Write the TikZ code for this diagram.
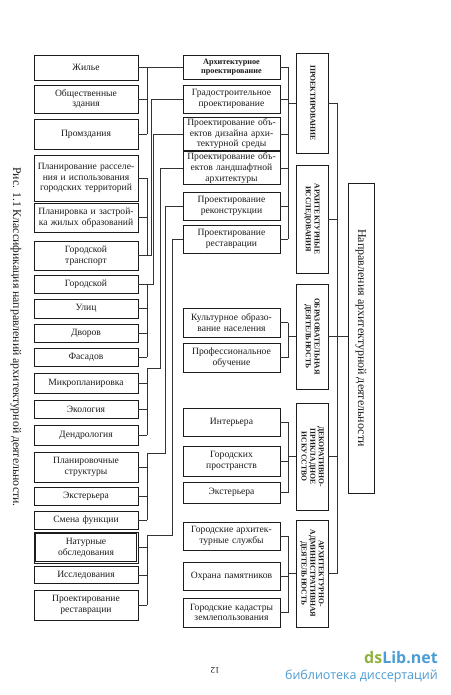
\documentclass[tikz,border=0pt]{standalone}
\usepackage{fontspec}
\setmainfont{Liberation Serif}
\newfontfamily\wmfont{Open Sans}
\usetikzlibrary{positioning}
\definecolor{ink}{HTML}{1C1C1C}
\definecolor{wire}{HTML}{333333}
\definecolor{wmgreen}{HTML}{8DB33C}
\definecolor{wmblue}{HTML}{4C9DD3}

\begin{document}
\begin{tikzpicture}[x=1pt,y=-1pt,
    box/.style={draw=ink,line width=0.9pt,inner sep=1pt,align=center,text=ink,
      font=\fontsize{9.6}{10.6}\selectfont},
    lbox/.style={box,minimum width=104pt,text width=102pt},
    mbox/.style={box,minimum width=97pt,text width=95pt},
    catbox/.style={box,minimum width=32pt,font=\fontsize{7.6}{8.6}\selectfont\bfseries},
    plain/.style={},
    head/.style={font=\fontsize{8.2}{8.8}\selectfont\bfseries},
    link/.style={draw=wire,line width=0.6pt}]
    \useasboundingbox (0,0) rectangle (450,695);
    \fill[white] (0,0) rectangle (450,695);

    % left column: objects
    \foreach \n/\yc/\h/\txt in {%
      1/67.5/25/{Жилье},
      2/99/28/{Общественные\\здания},
      3/134/30/{Промздания},
      4/178/46/{Планирование расселе-\\ния и использования\\городских территорий},
      5/217.5/29/{Планировка и застрой-\\ка жилых образований},
      6/255.5/29/{Городской\\транспорт},
      7/284.5/18/{Городской},
      8/308.5/19/{Улиц},
      9/333.5/18/{Дворов},
      10/357/18/{Фасадов},
      11/383/20/{Микропланировка},
      12/409/18/{Экология},
      13/435/20/{Дендрология},
      14/467/30/{Планировочные\\структуры},
      15/496/18/{Экстерьера},
      16/520/18/{Смена функции},
      17/547.5/31/{Натурные\\обследования},
      18/575/17/{Исследования},
      19/605/30/{Проектирование\\реставрации}}{
      \node[lbox,minimum height=\h pt] (L\n) at (86,\yc) {\txt};}
    % the doubled frame
    \draw[ink,line width=0.6pt] ([shift={(1.8,2)}]L17.north west)
      rectangle ([shift={(-1.8,-2.2)}]L17.south east);

    % middle column: kinds of work
    \foreach \n/\yc/\h/\st/\txt in {%
      1/67.5/24/head/{Архитектурное\\проектирование},
      2/99/28/plain/{Градостроительное\\проектирование},
      3/134/32/plain/{Проектирование объ-\\ектов дизайна архи-\\тектурной среды},
      4/168/30/plain/{Проектирование объ-\\ектов ландшафтной\\архитектуры},
      5/206/28/plain/{Проектирование\\реконструкции},
      6/239/28/plain/{Проектирование\\реставрации},
      7/322.5/29/plain/{Культурное образо-\\вание населения},
      8/357.5/29/plain/{Профессиональное\\обучение},
      9/422/28/plain/{Интерьера},
      10/461/30/plain/{Городских\\пространств},
      11/492.5/21/plain/{Экстерьера},
      12/536/28/plain/{Городские архитек-\\турные службы},
      13/576/28/plain/{Охрана памятников},
      14/612.5/29/plain/{Городские кадастры\\землепользования}}{
      \node[mbox,\st,minimum height=\h pt] (M\n) at (231.5,\yc) {\txt};}

    % categories, text turned
    \foreach \n/\yc/\h/\txt in {%
      1/103/100/{ПРОЕКТИРОВАНИЕ},
      2/219/108/{АРХИТЕКТУРНЫЕ\\ИССЛЕДОВАНИЯ},
      3/336.5/105/{ОБРАЗОВАТЕЛЬНАЯ\\ДЕЯТЕЛЬНОСТЬ},
      4/456.5/107/{ДЕКОРАТИВНО-\\ПРИКЛАДНОЕ\\ИСКУССТВО},
      5/573.5/107/{АРХИТЕКТУРНО-\\АДМИНИСТРАТИВНАЯ\\ДЕЯТЕЛЬНОСТЬ}}{
      \node[catbox,minimum height=\h pt] (R\n) at (312,\yc)
        {\rotatebox{-90}{\begin{tabular}{@{}c@{}}\txt\end{tabular}}};}

    \node[box,minimum width=26pt,minimum height=310pt] (main) at (361,338)
      {\rotatebox{-90}{\fontsize{12}{13}\selectfont Направления архитектурной деятельности}};

    % left brackets
    \coordinate (sL) at (147,0);
    \coordinate (jD) at (147,368);
    \coordinate (jE) at (147,453);
    \coordinate (jF) at (147,535);
    \foreach \i in {1,...,19}
      \draw[link] (L\i.east) -- (L\i.east -| sL);
    \draw[link] (L1.east) -- (M1.west);
    \draw[link] (L1.east -| sL) -- (L3.east -| sL);
    \draw[link] (L4.east -| sL) -- (L6.east -| sL) -- ++(4,0) |- (M2.west);
    \draw[link] (L10.east -| sL) -- (L7.east -| sL) -- ++(6,0) |- (M3.west);
    \draw[link] (L13.east -| sL) -- (jD) -- ++(13,0) |- (M4.west);
    \draw[link] (L16.east -| sL) -- (jE) -- ++(18,0) |- (M5.west);
    \draw[link] (L19.east -| sL) -- (jF) -- ++(25,0) |- (M6.west);

    % middle brackets
    \coordinate (sM) at (288,0);
    \foreach \i in {1,...,14}
      \draw[link] (M\i.east) -- (M\i.east -| sM);
    \draw[link] (M1.east -| sM) -- (M6.east -| sM);
    \draw[link] (M7.east -| sM) -- (M8.east -| sM);
    \draw[link] (M9.east -| sM) -- (M11.east -| sM);
    \draw[link] (M12.east -| sM) -- (M14.east -| sM);
    \foreach \i in {1,3,4,5}
      \draw[link] (sM |- R\i.west) -- (R\i.west);

    % spine to the whole
    \coordinate (sR) at (337,0);
    \foreach \i in {1,...,5}
      \draw[link] (R\i.east) -- (R\i.east -| sR);
    \draw[link] (R1.east -| sR) -- (R5.east -| sR);
    \draw[link] (sR |- R3.east) -- (main.west |- R3.east);

    \node[rotate=-90,text=ink,font=\fontsize{11.8}{13}\selectfont] (cap) at (16,337)
      {Рис. 1.1 Классификация направлений архитектурной деятельности.};
    \node[rotate=180,text=ink,font=\fontsize{9}{10}\selectfont] (pg) at (215,670) {12};
    \node[anchor=east,inner sep=0pt,font=\wmfont\fontsize{16}{18}\selectfont\bfseries]
      (wm1) at (438,658) {\textcolor{wmgreen}{ds}\textcolor{wmblue}{Lib.net}};
    \node[anchor=east,inner sep=0pt,text=wmblue,font=\wmfont\fontsize{12.5}{14}\selectfont]
      (wm2) at (438,676) {библиотека диссертаций};
  \end{tikzpicture}
\end{document}
